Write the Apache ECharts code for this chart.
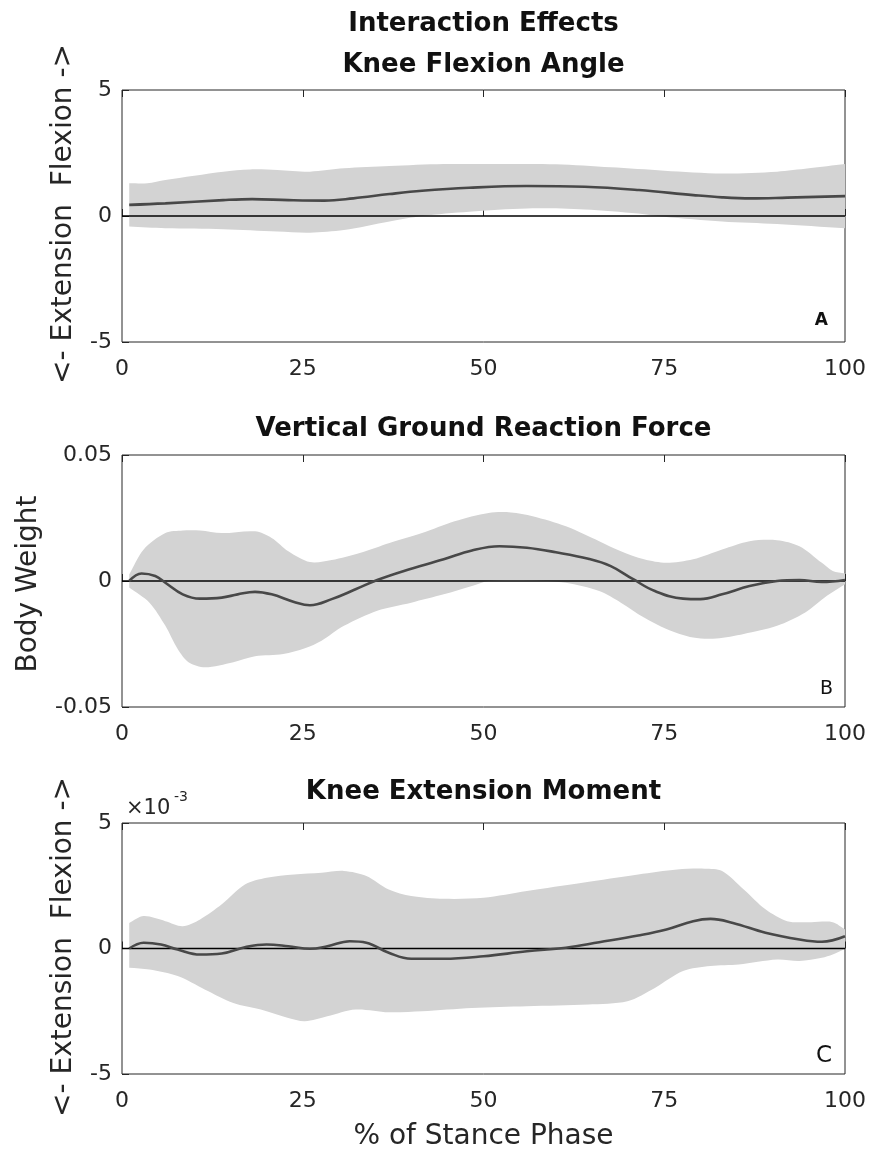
<!DOCTYPE html>
<html>
<head>
<meta charset="utf-8">
<script src="https://cdn.jsdelivr.net/npm/echarts@6/dist/echarts.min.js"></script>
<style>
html,body{margin:0;padding:0;background:#fff;}
#chart{width:869px;height:1151px;}
</style>
</head>
<body>
<div id="chart"></div>
<script>
// ---------- Data ----------
var xTicks = [0, 25, 50, 75, 100];

// Panel A: Knee Flexion Angle
var xMeanA  = [1, 6, 14, 18, 23, 28, 32, 37, 41.5, 48, 56, 64, 71.5, 79, 83, 87, 92, 100];
var meanA   = [0.44, 0.5, 0.63, 0.67, 0.63, 0.61, 0.7, 0.87, 1.0, 1.12, 1.19, 1.16, 1.03, 0.83, 0.74, 0.7, 0.73, 0.79];
var xUpperA = [1, 3.5, 6, 14, 17.7, 21.5, 26, 30.7, 37, 44.5, 52, 60, 67.6, 75, 83, 90.6, 95, 100];
var upperA  = [1.3, 1.3, 1.43, 1.76, 1.85, 1.83, 1.76, 1.89, 1.98, 2.06, 2.06, 2.05, 1.93, 1.8, 1.69, 1.76, 1.89, 2.06];
var xLowerA = [1, 6, 14, 21.5, 26, 30.7, 37, 41.5, 48, 56, 64, 71.4, 75, 83, 90.6, 100];
var lowerA  = [-0.42, -0.49, -0.53, -0.62, -0.66, -0.56, -0.22, 0, 0.17, 0.3, 0.26, 0.1, -0.03, -0.22, -0.32, -0.49];

// Panel B: Vertical Ground Reaction Force (body weight)
var xMeanB  = [1, 2.7, 4.6, 6, 8.4, 10.8, 13.8, 16, 18.4, 20.7, 23.8, 26, 29, 32.3, 35.3, 39, 44.5, 48.4, 52.2, 56, 60, 64.5, 67.6, 70.7, 73.7, 77.6, 80, 83, 86.8, 90.6, 93.7, 96.8, 100];
var meanB   = [0, 0.003, 0.002, -0.0007, -0.0053, -0.007, -0.0066, -0.0053, -0.0043, -0.0053, -0.0083, -0.0096, -0.0072, -0.0033, 0.0004, 0.004, 0.0086, 0.0121, 0.0138, 0.0132, 0.0114, 0.0088, 0.0059, 0.0007, -0.004, -0.007, -0.0072, -0.0053, -0.002, 0, 0.0004, -0.0004, 0.0004];
var xUpperB = [1, 3, 6, 8.4, 10.8, 13.8, 18.4, 20.7, 23, 26, 29, 33, 37, 41.5, 46, 50.7, 53.8, 56.8, 61.4, 66, 69, 72.2, 75.3, 79, 83, 86.8, 90.6, 93.7, 96.8, 98.3, 100];
var upperB  = [0.0026, 0.0125, 0.019, 0.020, 0.020, 0.019, 0.0197, 0.0171, 0.0118, 0.0075, 0.0083, 0.0112, 0.0151, 0.019, 0.0237, 0.027, 0.0272, 0.0257, 0.0217, 0.0158, 0.0118, 0.0086, 0.0072, 0.0086, 0.0125, 0.0158, 0.0162, 0.0138, 0.0072, 0.004, 0.003];
var xLowerB = [1, 3.8, 6, 7.7, 9.2, 11.5, 15.4, 18.4, 22.3, 25.3, 27.6, 30.7, 35.3, 40, 44.5, 48.4, 50.7, 56, 61.4, 66, 69, 72.2, 75.3, 79, 82.2, 86, 90.6, 94.5, 97.5, 100];
var lowerB  = [-0.0026, -0.0086, -0.0178, -0.027, -0.0322, -0.0342, -0.0322, -0.0299, -0.029, -0.0267, -0.0237, -0.0178, -0.0118, -0.0086, -0.0053, -0.002, 0, 0.0003, -0.0007, -0.004, -0.0086, -0.0145, -0.019, -0.0224, -0.0228, -0.021, -0.0178, -0.0125, -0.0059, -0.0013];

// Panel C: Knee Extension Moment (x 10^-3)
var xMeanC  = [1, 3, 5.4, 7.7, 10.8, 13.8, 17, 20, 23, 26, 28.4, 31.5, 33.8, 36.9, 40, 44.5, 50, 56, 61.4, 66, 71.4, 75.3, 79, 81.4, 84.5, 89, 93.7, 96.8, 100];
var meanC   = [0, 0.23, 0.16, -0.04, -0.24, -0.2, 0.05, 0.16, 0.09, -0.01, 0.09, 0.29, 0.23, -0.17, -0.41, -0.41, -0.31, -0.11, 0.03, 0.25, 0.52, 0.76, 1.09, 1.18, 1.02, 0.63, 0.36, 0.27, 0.49];
var xUpperC = [1, 3, 6, 8.4, 10.8, 13.8, 17, 20, 23.8, 27.6, 30.7, 33.8, 36.9, 40, 44.5, 50, 56, 63.7, 71.4, 76.8, 80.6, 83, 86, 89, 92, 95.2, 98.3, 100];
var upperC  = [1.02, 1.29, 1.09, 0.89, 1.16, 1.76, 2.55, 2.82, 2.95, 3.02, 3.09, 2.89, 2.35, 2.09, 1.98, 2.02, 2.29, 2.62, 2.95, 3.15, 3.18, 3.09, 2.35, 1.56, 1.09, 1.05, 1.05, 0.76];
var xLowerC = [1, 3.8, 7.7, 11.5, 15.4, 19.2, 23, 25.3, 28.4, 32.3, 36.9, 41.5, 48.4, 56, 64.5, 69.9, 73.7, 77.6, 81.4, 85.3, 90.6, 93.7, 96.8, 98.3, 100];
var lowerC  = [-0.77, -0.84, -1.1, -1.64, -2.17, -2.43, -2.77, -2.9, -2.7, -2.43, -2.54, -2.5, -2.37, -2.3, -2.23, -2.1, -1.57, -0.9, -0.7, -0.64, -0.44, -0.5, -0.37, -0.24, -0.01];

var titles = ['Interaction Effects', 'Knee Flexion Angle', 'Vertical Ground Reaction Force', 'Knee Extension Moment'];
var yLabels = ['<- Extension  Flexion ->', 'Body Weight', '<- Extension  Flexion ->'];
var xLabel = '% of Stance Phase';
var panelLetters = ['A', 'B', 'C'];

// ---------- Build ----------
var FONT = 'DejaVu Sans';
var INK = '#262626';
var BAND = '#d3d3d3';
var MEAN = '#484848';

var grids = [
  {left: 122, right: 24, top: 90, height: 252},
  {left: 122, right: 24, top: 455, height: 252},
  {left: 122, right: 24, top: 823, height: 251}
];
var yRanges = [
  {min: -5, max: 5, interval: 5},
  {min: -0.05, max: 0.05, interval: 0.05},
  {min: -5, max: 5, interval: 5}
];
var panels = [
  {xm: xMeanA, m: meanA, xu: xUpperA, u: upperA, xl: xLowerA, l: lowerA},
  {xm: xMeanB, m: meanB, xu: xUpperB, u: upperB, xl: xLowerB, l: lowerB},
  {xm: xMeanC, m: meanC, xu: xUpperC, u: upperC, xl: xLowerC, l: lowerC}
];

function pairs(xs, ys) { return xs.map(function (x, i) { return [x, ys[i]]; }); }
function fmtY(v) {
  if (Math.abs(v) < 1e-12) return '0';
  return String(+v.toFixed(4));
}
// repeat first & last vertex so the smoothed outline keeps straight vertical ends
function pinEnds(pts) {
  return [pts[0]].concat(pts, [pts[pts.length - 1]]);
}

var option = {
  animation: false,
  backgroundColor: '#fff',
  grid: grids.map(function (g) {
    return Object.assign({show: true, borderColor: INK, borderWidth: 1, backgroundColor: 'transparent', outerBoundsMode: 'none', containLabel: false}, g);
  }),
  xAxis: [],
  yAxis: [],
  series: [],
  graphic: []
};

grids.forEach(function (g, i) {
  option.xAxis.push({
    type: 'value', gridIndex: i, position: 'bottom', min: 0, max: 100, interval: 25,
    axisLine: {show: false},
    axisTick: {show: true, inside: true, length: 7, lineStyle: {color: INK, width: 1}},
    splitLine: {show: false},
    axisLabel: {show: true, margin: 16, color: INK, fontFamily: FONT, fontSize: 22,
      formatter: function (v) { return xTicks.indexOf(v) >= 0 ? String(v) : ''; }}
  });
  option.xAxis.push({
    type: 'value', gridIndex: i, position: 'top', min: 0, max: 100, interval: 25,
    axisLine: {show: false},
    axisTick: {show: true, inside: true, length: 7, lineStyle: {color: INK, width: 1}},
    splitLine: {show: false},
    axisLabel: {show: false}
  });
  option.yAxis.push({
    type: 'value', gridIndex: i, position: 'left',
    min: yRanges[i].min, max: yRanges[i].max, interval: yRanges[i].interval,
    axisLine: {show: false},
    axisTick: {show: true, inside: true, length: 7, lineStyle: {color: INK, width: 1}},
    splitLine: {show: false},
    axisLabel: {show: true, margin: 10, color: INK, fontFamily: FONT, fontSize: 22, formatter: fmtY}
  });

  var p = panels[i];
  // shaded band
  option.series.push({
    type: 'custom', xAxisIndex: 2 * i, yAxisIndex: i, silent: true, z: 1,
    data: [[0, 0]],
    renderItem: (function (p) {
      return function (params, api) {
        var up = p.xu.map(function (x, k) { return api.coord([x, p.u[k]]); });
        var lo = p.xl.map(function (x, k) { return api.coord([x, p.l[k]]); }).reverse();
        return {type: 'polygon', shape: {points: pinEnds(up).concat(pinEnds(lo)), smooth: 0.3}, style: {fill: BAND, stroke: null}};
      };
    })(p)
  });
  // zero line
  option.series.push({
    type: 'line', xAxisIndex: 2 * i, yAxisIndex: i, z: 2, silent: true,
    data: [[0, 0], [100, 0]], showSymbol: false, symbol: 'none',
    lineStyle: {color: '#000', width: 1.6}
  });
  // mean line
  option.series.push({
    type: 'line', xAxisIndex: 2 * i, yAxisIndex: i, z: 3, silent: true,
    data: pairs(p.xm, p.m), smooth: 0.4, showSymbol: false, symbol: 'none',
    lineStyle: {color: MEAN, width: 2.6}
  });
});

// titles
var titleY = [24, 65, 429, 792];
titles.forEach(function (t, i) {
  option.graphic.push({
    type: 'text', x: 483.5, y: titleY[i], silent: true,
    style: {text: t, fill: '#111', font: 'bold 26px "' + FONT + '"', align: 'center', verticalAlign: 'middle'}
  });
});
// y labels
var yLabPos = [[64, 214], [29, 584], [64, 947]];
yLabels.forEach(function (t, i) {
  option.graphic.push({
    type: 'text', x: yLabPos[i][0], y: yLabPos[i][1], rotation: Math.PI / 2, silent: true,
    style: {text: t, fill: INK, font: '28px "' + FONT + '"', align: 'center', verticalAlign: 'middle'}
  });
});
// x label
option.graphic.push({
  type: 'text', x: 483.5, y: 1137, silent: true,
  style: {text: xLabel, fill: INK, font: '28px "' + FONT + '"', align: 'center', verticalAlign: 'middle'}
});
// panel letters
var letterPos = [[828, 321], [833, 689], [832, 1056]];
var letterFont = ['bold 17px', '19px', '23px'];
panelLetters.forEach(function (t, i) {
  option.graphic.push({
    type: 'text', x: letterPos[i][0], y: letterPos[i][1], silent: true, z: 10,
    style: {text: t, fill: '#111', font: letterFont[i] + ' "' + FONT + '"', align: 'right', verticalAlign: 'middle'}
  });
});
// exponent for panel C
option.graphic.push({
  type: 'text', x: 126, y: 809, silent: true,
  style: {text: '\u00d710', fill: INK, font: '21px "' + FONT + '"', align: 'left', verticalAlign: 'middle'}
});
option.graphic.push({
  type: 'text', x: 174, y: 797, silent: true,
  style: {text: '-3', fill: INK, font: '14px "' + FONT + '"', align: 'left', verticalAlign: 'middle'}
});

var chart = echarts.init(document.getElementById('chart'), null, {renderer: 'canvas', width: 869, height: 1151});
chart.setOption(option);
</script>
</body>
</html>
